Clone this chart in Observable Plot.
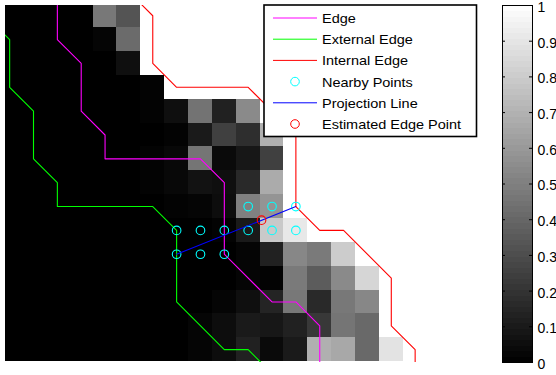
<!DOCTYPE html>
<html>
<head>
<meta charset="utf-8">
<script src="https://cdn.jsdelivr.net/npm/d3@7"></script>
<script src="https://cdn.jsdelivr.net/npm/@observablehq/plot@0.6"></script>
<style>
  body { margin: 0; background: #fff; }
  #fig { position: relative; width: 556px; height: 375px; overflow: hidden; font-family: "Liberation Sans", Arial, sans-serif; }
  #fig > svg { position: absolute; }
</style>
</head>
<body>
<div id="fig"></div>
<script>
// Intensity image: one row per pixel row (rows -1..13), columns -1..16
const colStart = -1;
const rowStart = -1;
const intensity = [
  [0, 0, 0, 0, 0.47, 0.33, 1, 1, 1, 1, 1, 1, 1, 1, 1, 1, 1, 1],
  [0, 0, 0, 0, 0.02, 0.42, 1, 1, 1, 1, 1, 1, 1, 1, 1, 1, 1, 1],
  [0, 0, 0, 0, 0, 0.06, 1, 1, 1, 1, 1, 1, 1, 1, 1, 1, 1, 1],
  [0, 0, 0, 0, 0, 0, 0.01, 1, 1, 1, 1, 1, 1, 1, 1, 1, 1, 1],
  [0, 0, 0, 0, 0, 0, 0.01, 0.06, 0.45, 0.13, 0.54, 1, 1, 1, 1, 1, 1, 1],
  [0, 0, 0, 0, 0, 0, 0, 0.01, 0.1, 0.25, 0.18, 0.69, 1, 1, 1, 1, 1, 1],
  [0, 0, 0, 0, 0, 0, 0.01, 0.03, 0.46, 0.04, 0.09, 0.25, 1, 1, 1, 1, 1, 1],
  [0, 0, 0, 0, 0, 0, 0.01, 0.03, 0.07, 0.06, 0.16, 0.67, 1, 1, 1, 1, 1, 1],
  [0, 0, 0, 0, 0, 0, 0, 0.01, 0.02, 0.05, 0.5, 0.58, 1, 1, 1, 1, 1, 1],
  [0, 0, 0, 0, 0, 0, 0, 0, 0, 0.01, 0.1, 0.79, 0.91, 1, 1, 1, 1, 1],
  [0, 0, 0, 0, 0, 0, 0, 0, 0, 0, 0.02, 0.13, 0.53, 0.48, 0.8, 1, 1, 1],
  [0, 0, 0, 0, 0, 0, 0, 0, 0, 0, 0.02, 0.01, 0.48, 0.36, 0.54, 0.84, 1, 1],
  [0, 0, 0, 0, 0, 0, 0, 0, 0, 0.02, 0.06, 0.14, 0.47, 0.16, 0.47, 0.53, 1, 1],
  [0, 0, 0, 0, 0, 0, 0, 0, 0.02, 0.05, 0.1, 0.09, 0.13, 0.22, 0.46, 0.41, 1, 1],
  [0, 0, 0, 0, 0, 0, 0, 0, 0.02, 0.05, 0.13, 0.04, 0.1, 0.69, 0.66, 0.41, 0.89, 1]
];

// Edge contours as [column, row] vertices
const edgePath = [[1, -2], [1, 0], [2, 1], [2, 3], [3, 4], [3, 5], [7, 5], [8, 6], [8, 9], [10, 11], [11, 11], [12, 12], [12, 14]];
const externalEdgePath = [[-2, -1], [-1, 0], [-1, 2], [0, 3], [0, 5], [1, 6], [1, 7], [5, 7], [6, 8], [6, 11], [8, 13], [9, 13], [10, 14]];
const internalEdgePath = [[4, -2], [5, -1], [5, 1], [6, 2], [9, 2], [10, 3], [11, 4], [11, 7], [12, 8], [13, 8], [15, 10], [15, 12], [16, 13], [16, 14]];

// Sample points around the edge and the fitted projection
const nearbyPoints = [[9, 7], [10, 7], [11, 7], [6, 8], [7, 8], [8, 8], [9, 8], [10, 8], [11, 8], [6, 9], [7, 9], [8, 9]];
const projectionLine = [[6, 9], [11, 7]];
const estimatedEdgePoint = [[9.56, 7.57]];

const colorTicks = [0, 0.1, 0.2, 0.3, 0.4, 0.5, 0.6, 0.7, 0.8, 0.9, 1];

const legendItems = [
  { label: "Edge", kind: "line", color: "#ff00ff" },
  { label: "External Edge", kind: "line", color: "#00ff00" },
  { label: "Internal Edge", kind: "line", color: "#ff0000" },
  { label: "Nearby Points", kind: "circle", color: "#00ffff" },
  { label: "Projection Line", kind: "line", color: "#0000ff" },
  { label: "Estimated Edge Point", kind: "circle", color: "#ff0000" }
];

const cells = intensity.flatMap((row, i) => row.map((v, j) => ({ k: colStart + j, r: rowStart + i, v })));

const grayScale = { type: "linear", domain: [0, 1], range: ["#000000", "#ffffff"] };
const fig = document.getElementById("fig");
const px = (d) => d[0];
const py = (d) => d[1];

const main = Plot.plot({
  width: 490,
  height: 375,
  marginLeft: 5,
  marginTop: 5,
  marginRight: 10,
  marginBottom: 13,
  x: { domain: [-1.174, 18.74], axis: null },
  y: { domain: [-1.43, 13.54], reverse: true, axis: null },
  color: grayScale,
  style: { background: "white" },
  marks: [
    Plot.rect(cells, {
      x1: (d) => d.k - 0.5, x2: (d) => d.k + 0.5,
      y1: (d) => d.r - 0.5, y2: (d) => d.r + 0.5,
      fill: "v", shapeRendering: "crispEdges", clip: true
    }),
    Plot.line(edgePath, { x: px, y: py, stroke: "#ff00ff", strokeWidth: 1.1, clip: true }),
    Plot.line(externalEdgePath, { x: px, y: py, stroke: "#00ff00", strokeWidth: 1.1, clip: true }),
    Plot.line(internalEdgePath, { x: px, y: py, stroke: "#ff0000", strokeWidth: 1.1, clip: true }),
    Plot.dot(nearbyPoints, { x: px, y: py, r: 4.3, stroke: "#00ffff", fill: "none", strokeWidth: 1.1 }),
    Plot.line(projectionLine, { x: px, y: py, stroke: "#0000ff", strokeWidth: 1.1 }),
    Plot.dot(estimatedEdgePoint, { x: px, y: py, r: 4.3, stroke: "#ff0000", fill: "none", strokeWidth: 1.1 })
  ]
});
main.style.left = "0px";
main.style.top = "0px";
fig.appendChild(main);

// Vertical colorbar
const colorbar = Plot.plot({
  width: 61,
  height: 375,
  marginLeft: 7,
  marginRight: 24,
  marginTop: 5,
  marginBottom: 13,
  x: { domain: [0, 1], axis: null },
  y: { domain: [0, 1], axis: null },
  color: grayScale,
  style: { background: "white", fontFamily: "'Liberation Sans', Arial, sans-serif" },
  marks: [
    Plot.raster({ x1: 0, x2: 1, y1: 0, y2: 1, width: 1, height: 64, fill: (x, y) => y, imageRendering: "pixelated" }),
    Plot.frame({ stroke: "black", strokeWidth: 1 }),
    Plot.ruleY(colorTicks, { y: (d) => d, x1: 0, x2: 0.1, stroke: "black", strokeWidth: 1 }),
    Plot.ruleY(colorTicks, { y: (d) => d, x1: 0.9, x2: 1, stroke: "black", strokeWidth: 1 }),
    Plot.text(colorTicks, { x: 1, y: (d) => d, dx: 5, dy: 2, textAnchor: "start", text: (d) => String(d), fontSize: 14, fill: "black" })
  ]
});
colorbar.style.left = "495px";
colorbar.style.top = "0px";
fig.appendChild(colorbar);

// Legend box
const lg = d3.create("svg").attr("width", 216).attr("height", 136)
  .style("left", "262px").style("top", "3px");
const ox = 262, oy = 3;
lg.append("rect").attr("x", 264 - ox).attr("y", 5 - oy).attr("width", 212.5).attr("height", 131.5)
  .attr("fill", "white").attr("stroke", "black").attr("stroke-width", 1.6);
legendItems.forEach((item, i) => {
  const cy = 18 + i * 21.2 - oy;
  if (item.kind === "line") {
    lg.append("line").attr("x1", 273 - ox).attr("x2", 317 - ox).attr("y1", cy).attr("y2", cy)
      .attr("stroke", item.color).attr("stroke-width", 1);
  } else {
    lg.append("circle").attr("cx", 295 - ox).attr("cy", cy).attr("r", 4.3)
      .attr("fill", "none").attr("stroke", item.color).attr("stroke-width", 1);
  }
  lg.append("text").attr("transform", `translate(${322 - ox},${cy + 4.9}) scale(1.08,1)`)
    .attr("font-family", "'Liberation Sans', Arial, sans-serif").attr("font-size", 13.4)
    .attr("fill", "black").text(item.label);
});
fig.appendChild(lg.node());
</script>
</body>
</html>
